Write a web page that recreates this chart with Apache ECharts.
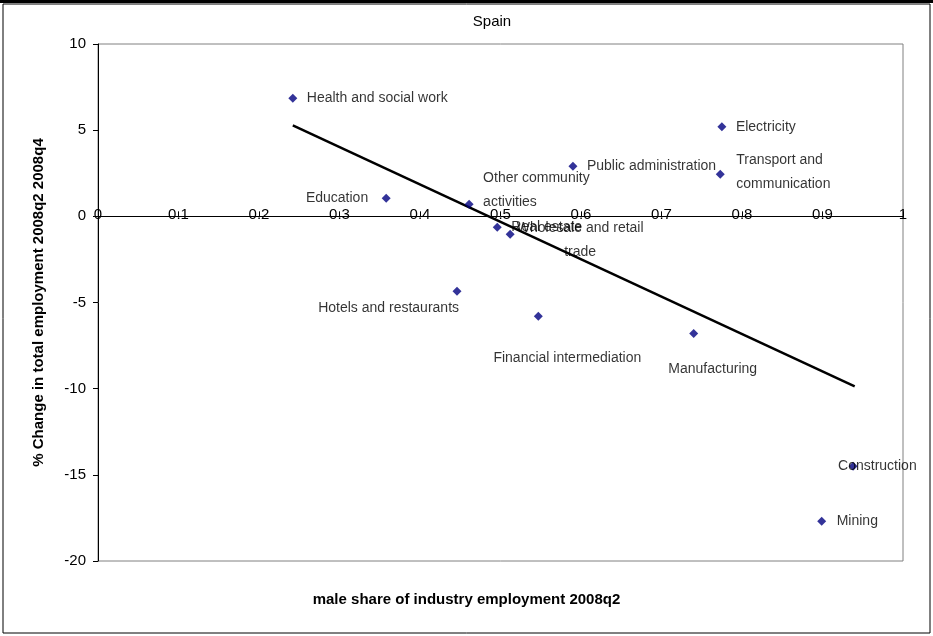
<!DOCTYPE html>
<html><head><meta charset="utf-8">
<script src="https://cdn.jsdelivr.net/npm/echarts@6/dist/echarts.min.js"></script>
<style>html,body{margin:0;padding:0;background:#fff}#c{width:933px;height:636px}</style>
</head><body><div id="c"></div>
<script>
const industries = ['Health and social work', 'Education', 'Other community\nactivities', 'Real estate',
  'Wholesale and retail\ntrade', 'Public administration', 'Electricity', 'Transport and\ncommunication',
  'Hotels and restaurants', 'Financial intermediation', 'Manufacturing', 'Construction', 'Mining'];
const maleShare = [0.242, 0.358, 0.461, 0.496, 0.512, 0.590, 0.775, 0.773, 0.446, 0.547, 0.740, 0.938, 0.899];
const empChange = [6.85, 1.05, 0.70, -0.64, -1.04, 2.9, 5.2, 2.44, -4.35, -5.8, -6.8, -14.5, -17.7];
const trendX = [0.242, 0.940];
const trendY = [5.28, -9.87];

// label placement per point: [align, dx, dy]
const labelPos = [
  ['left', 14, 0], ['right', -18, 0], ['left', 14, -14], ['left', 14, 0],
  ['center', 70, 6], ['left', 14, 0], ['left', 14, 0], ['left', 16, -2],
  ['right', 2, 17], ['center', 29, 42], ['center', 19, 36], ['left', -15, 0], ['left', 15, 0]
];

let chart = echarts.init(document.getElementById('c'));
const font = 'Liberation Sans, Arial, sans-serif';
let pts = maleShare.map((x, i) => ({
  value: [x, empChange[i]],
  label: {
    show: true, formatter: industries[i], position: 'inside',
    align: labelPos[i][0], verticalAlign: 'middle',
    offset: [labelPos[i][1], labelPos[i][2]], color: '#000', fontSize: 14,
    fontFamily: font, lineHeight: 24
  }
}));
chart.setOption({
  animation: false,
  backgroundColor: '#fff',
  title: { text: 'Spain', left: 487, top: 9, textAlign: 'center',
    textStyle: { fontSize: 15, fontWeight: 'normal', color: '#000', fontFamily: font } },
  graphic: [
    { type: 'rect', shape: { x: 3, y: 4, width: 927, height: 629 }, style: { fill: 'none', stroke: '#000', lineWidth: 1 } },
    { type: 'rect', shape: { x: 0, y: 0, width: 933, height: 3 }, style: { fill: '#000' } },
    { type: 'text', left: 'center', top: 592, style: { text: 'male share of industry employment 2008q2',
      fontSize: 15, fontWeight: 'bold', fill: '#000', fontFamily: font } }
  ],
  grid: { left: 98, right: 30, top: 44, bottom: 75, show: true, borderColor: '#808080', borderWidth: 1,
    outerBoundsMode: 'none', containLabel: false },
  xAxis: {
    type: 'value', min: 0, max: 1, interval: 0.1,
    axisLine: { onZero: true, lineStyle: { color: '#000' } },
    axisTick: { show: true, inside: true, length: 5, lineStyle: { color: '#000' } },
    axisLabel: { color: '#000', fontSize: 15, fontFamily: font, margin: -354, showMinLabel: true, showMaxLabel: true },
    splitLine: { show: false }
  },
  yAxis: {
    type: 'value', min: -20, max: 10, interval: 5,
    name: '% Change in total employment 2008q2 2008q4', nameLocation: 'middle', nameGap: 52,
    nameTextStyle: { fontSize: 15, fontWeight: 'bold', color: '#000', fontFamily: font },
    axisLine: { show: true, lineStyle: { color: '#000' } },
    axisTick: { show: true, length: 5, lineStyle: { color: '#000' } },
    axisLabel: { color: '#000', fontSize: 15, fontFamily: font, margin: 12 },
    splitLine: { show: false }
  },
  series: [
    { type: 'scatter', symbol: 'diamond', symbolSize: 9, itemStyle: { color: '#000080' }, data: pts, z: 3 },
    { type: 'line', symbol: 'none', lineStyle: { color: '#000', width: 2.5 },
      data: trendX.map((x, i) => [x, trendY[i]]), z: 2 }
  ]
});
window.onresize = function () { chart.resize(); };
</script></body></html>
